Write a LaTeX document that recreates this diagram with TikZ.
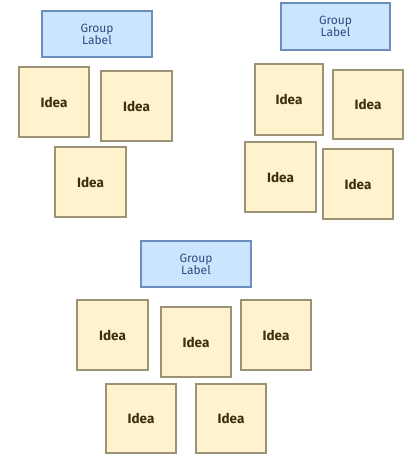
\documentclass[tikz,border=0pt]{standalone}
\usepackage{fontspec}
\setmainfont{Fira Sans}
\definecolor{stickyfill}{HTML}{FFF2CC}
\definecolor{stickyline}{HTML}{9C9275}
\definecolor{labelfill}{HTML}{CCE5FF}
\definecolor{labelline}{HTML}{6C8EBF}
\definecolor{labeltext}{HTML}{2B4C7E}
\definecolor{ideatext}{HTML}{3A3010}
\begin{document}
\begin{tikzpicture}[x=1pt,y=-1pt,
  sticky/.style={draw=stickyline,fill=stickyfill,line width=1.1pt,text=ideatext,font=\fontsize{13.5}{15}\selectfont\bfseries},
  grouplabel/.style={draw=labelline,fill=labelfill,line width=1.1pt,text=labeltext,align=center,font=\fontsize{12}{12}\selectfont}]
\useasboundingbox (0,0) rectangle (408,454);
% group 1
\node[grouplabel,minimum width=110pt,minimum height=46pt] (g1) at (97,34) {Group\\Label};
\node[sticky,minimum width=70pt,minimum height=70pt] (g1a) at (54,102) {Idea};
\node[sticky,minimum width=71pt,minimum height=70pt] (g1b) at (136.5,106) {Idea};
\node[sticky,minimum width=71pt,minimum height=70pt] (g1c) at (90.5,182) {Idea};
% group 2
\node[grouplabel,minimum width=109pt,minimum height=47pt] (g2) at (335.5,26.5) {Group\\Label};
\node[sticky,minimum width=68pt,minimum height=71pt] (g2a) at (289,99.5) {Idea};
\node[sticky,minimum width=70pt,minimum height=69pt] (g2b) at (368,104.5) {Idea};
\node[sticky,minimum width=71pt,minimum height=70pt] (g2c) at (280.5,177) {Idea};
\node[sticky,minimum width=70pt,minimum height=70pt] (g2d) at (358,184) {Idea};
% group 3
\node[grouplabel,minimum width=110pt,minimum height=46pt] (g3) at (196,264) {Group\\Label};
\node[sticky,minimum width=71pt,minimum height=70pt] (g3a) at (112.5,335) {Idea};
\node[sticky,minimum width=70pt,minimum height=70pt] (g3b) at (196,342) {Idea};
\node[sticky,minimum width=70pt,minimum height=70pt] (g3c) at (276,335) {Idea};
\node[sticky,minimum width=70pt,minimum height=69pt] (g3d) at (141,418.5) {Idea};
\node[sticky,minimum width=70pt,minimum height=69pt] (g3e) at (231,418.5) {Idea};
\end{tikzpicture}
\end{document}
